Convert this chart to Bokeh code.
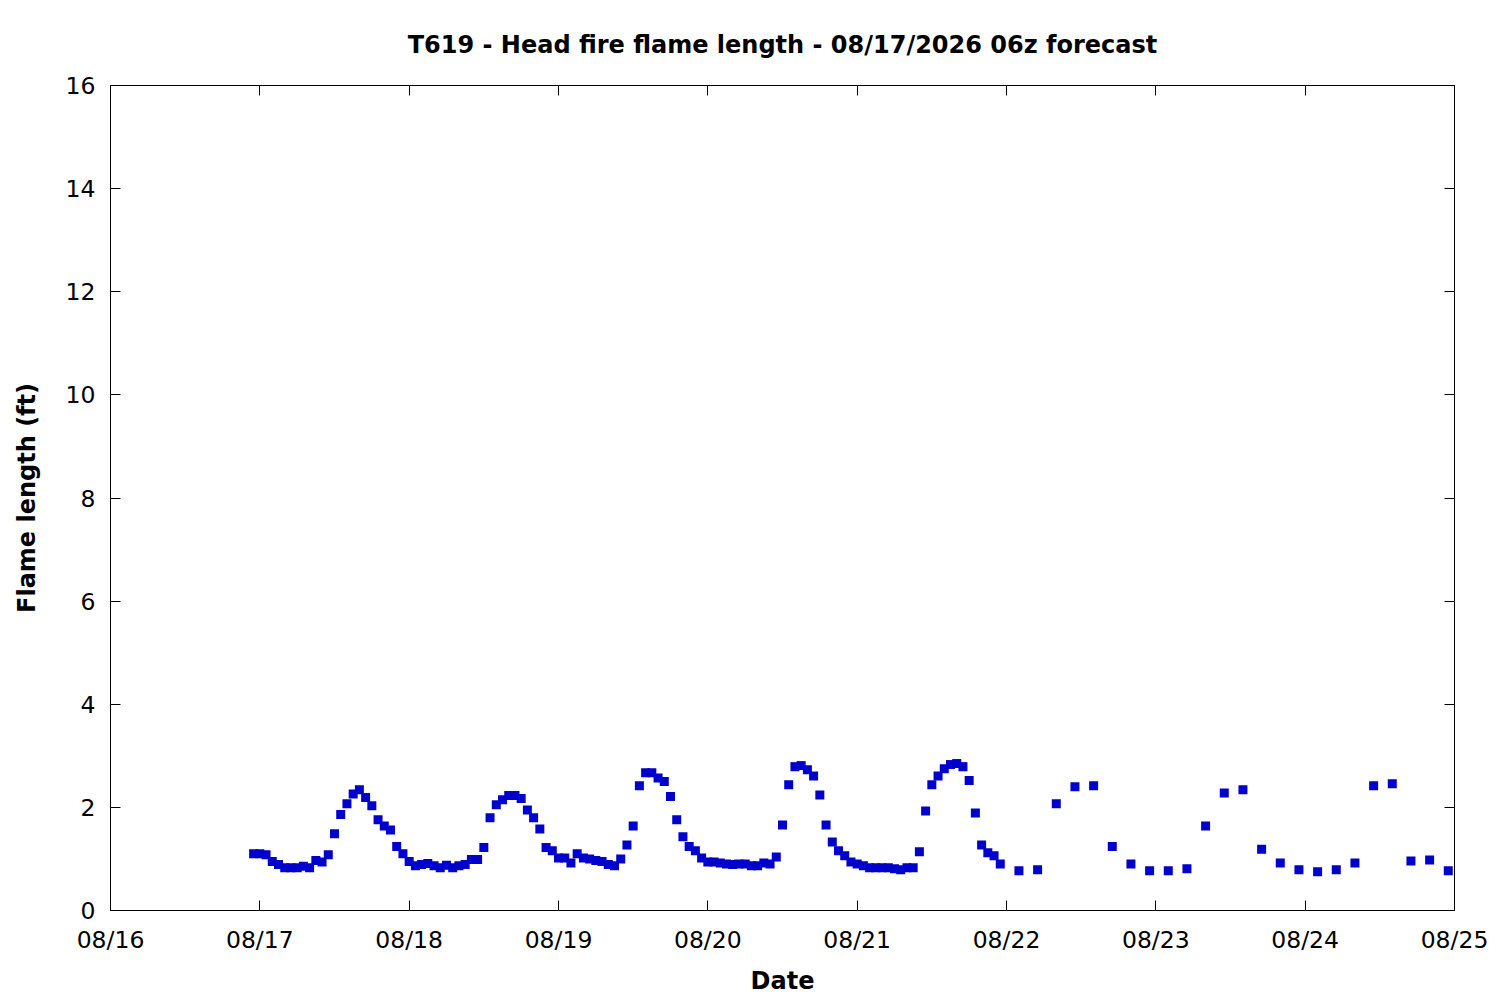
import pandas as pd
from bokeh.plotting import figure
from bokeh.models import (FixedTicker, DaysTicker, DatetimeTickFormatter, LinearAxis,
                          DatetimeAxis, CustomJSTickFormatter, Range1d, ColumnDataSource)
from bokeh.embed import file_html
from bokeh.resources import INLINE

# ---------------- data ----------------
title_text = "T619 - Head fire flame length - 08/17/2026 06z forecast"
x_label = "Date"
y_label = "Flame length (ft)"

hourly_start = "2026-08-16 23:00"
hourly_values = [
    1.10, 1.10, 1.08, 0.95, 0.89, 0.83, 0.83, 0.83, 0.86, 0.83,
    0.97, 0.94, 1.08, 1.49, 1.86, 2.07, 2.26, 2.34, 2.19, 2.03,
    1.76, 1.64, 1.56, 1.24, 1.10, 0.95, 0.87, 0.89, 0.91, 0.87,
    0.83, 0.88, 0.83, 0.87, 0.89, 0.99, 0.99, 1.22, 1.80, 2.05,
    2.15, 2.23, 2.23, 2.17, 1.95, 1.80, 1.58, 1.22, 1.16, 1.02,
    1.02, 0.92, 1.10, 1.02, 1.00, 0.97, 0.95, 0.89, 0.87, 1.00,
    1.27, 1.64, 2.42, 2.67, 2.67, 2.57, 2.50, 2.21, 1.76, 1.43,
    1.24, 1.16, 1.02, 0.94, 0.94, 0.92, 0.90, 0.89, 0.90, 0.90,
    0.87, 0.87, 0.92, 0.90, 1.04, 1.66, 2.44, 2.79, 2.81, 2.73,
    2.61, 2.24, 1.66, 1.33, 1.16, 1.06, 0.94, 0.90, 0.87, 0.83,
    0.83, 0.83, 0.83, 0.81, 0.79, 0.83, 0.83, 1.14, 1.93, 2.44,
    2.61, 2.75, 2.83, 2.85, 2.79, 2.52, 1.89, 1.27, 1.12, 1.06,
    0.90,
]

threehourly_start = "2026-08-22 02:00"
threehourly_values = [
    0.77, 0.79, 2.07, 2.40, 2.42, 1.24, 0.90, 0.77, 0.77, 0.81,
    1.64, 2.28, 2.34, 1.19, 0.92, 0.79, 0.75, 0.79, 0.92, 2.42,
    2.46, 0.96, 0.98, 0.77,
]

x_start, x_end = "2026-08-16", "2026-08-25"
y_ticks = [0, 2, 4, 6, 8, 10, 12, 14, 16]

# ---------------- build ----------------
times = list(pd.date_range(hourly_start, periods=len(hourly_values), freq="h")) + \
        list(pd.date_range(threehourly_start, periods=len(threehourly_values), freq="3h"))
values = hourly_values + threehourly_values
src = ColumnDataSource(data=dict(t=times, v=values))

FONT = "DejaVu Sans"
FS = "24px"
TFS = "23.5px"

p = figure(width=1500, height=1000, x_axis_type="datetime",
           output_backend="svg", toolbar_location=None,
           x_range=Range1d(pd.Timestamp(x_start), pd.Timestamp(x_end)),
           y_range=Range1d(0, 16),
           min_border_left=110, min_border_right=46,
           min_border_top=85, min_border_bottom=90)

p.title.text = title_text
p.title.align = "center"
p.title.text_font = FONT
p.title.text_font_size = FS
p.title.text_font_style = "bold"
p.title.text_color = "black"
p.title.standoff = 53

p.grid.visible = False
p.outline_line_color = "black"
p.outline_line_width = 1
p.background_fill_color = "white"
p.border_fill_color = "white"

fmt = DatetimeTickFormatter(days="%m/%d", months="%m/%d", hours="%m/%d",
                            years="%m/%d", minutes="%m/%d")
day_ticker = DaysTicker(days=list(range(1, 32)))

xa = p.xaxis[0]
xa.ticker = day_ticker
xa.formatter = fmt
ya = p.yaxis[0]
ya.ticker = FixedTicker(ticks=y_ticks)

for ax in (xa, ya):
    ax.axis_line_color = None
    ax.major_tick_in = 10
    ax.major_tick_out = 0
    ax.major_tick_line_color = "black"
    ax.minor_tick_line_color = None
    ax.major_label_text_font = FONT
    ax.major_label_text_font_size = TFS
    ax.major_label_text_color = "black"
    ax.axis_label_text_font = FONT
    ax.axis_label_text_font_size = FS
    ax.axis_label_text_font_style = "bold"
    ax.axis_label_text_color = "black"

xa.axis_label = x_label
ya.axis_label = y_label
xa.major_label_standoff = 15
xa.axis_label_standoff = 10
ya.major_label_standoff = 15
ya.axis_label_standoff = 22

empty = CustomJSTickFormatter(code="return ''")
ra = LinearAxis(ticker=FixedTicker(ticks=y_ticks), formatter=empty)
ta = DatetimeAxis(ticker=day_ticker, formatter=empty)
for ax in (ra, ta):
    ax.axis_line_color = None
    ax.major_tick_in = 10
    ax.major_tick_out = 0
    ax.minor_tick_line_color = None
    ax.major_label_text_font_size = "1px"
    ax.major_label_standoff = 0
p.add_layout(ra, "right")
p.add_layout(ta, "above")

p.scatter("t", "v", source=src, marker="square", size=9,
          fill_color="#0000cc", line_color=None)

open("out.html", "w").write(file_html(p, INLINE))
